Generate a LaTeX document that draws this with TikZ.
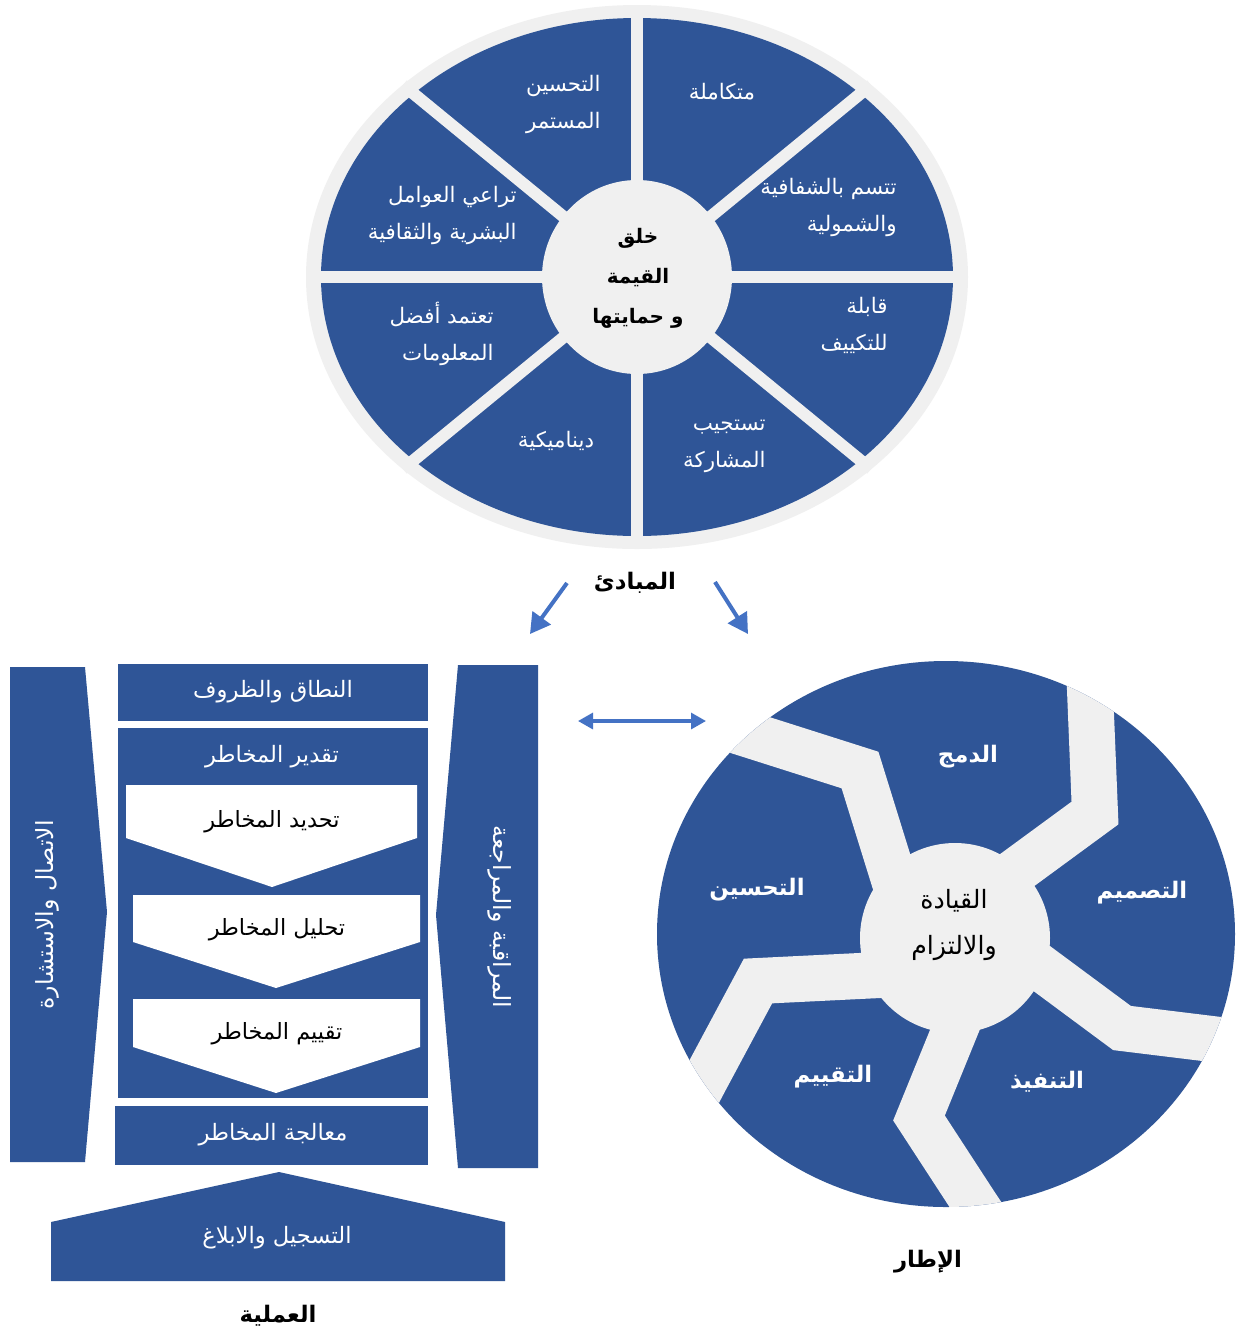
\documentclass[tikz,border=0pt]{standalone}
\usepackage{fontspec}
\newfontfamily\arfont[Script=Arabic]{DejaVu Sans}
\TeXXeTstate=1
\usetikzlibrary{arrows.meta}
\definecolor{wblue}{HTML}{2F5597}
\definecolor{pale}{HTML}{F0F0F0}
\definecolor{linkblue}{HTML}{4472C4}
\newcommand{\artext}[1]{\beginR #1\endR}
\tikzset{
  wheeltxt/.style={text=white, font=\arfont\fontsize{10.7}{18.5}\selectfont, inner sep=0pt},
  hubtxt/.style={text=black, font=\arfont\bfseries\fontsize{10}{20}\selectfont, align=center, inner sep=0pt},
  boxtxt/.style={text=white, font=\arfont\fontsize{11.3}{13}\selectfont, inner sep=0pt},
  sidetxt/.style={text=white, font=\arfont\fontsize{11.8}{13}\selectfont, inner sep=0pt},
  chevtxt/.style={text=black, font=\arfont\fontsize{11.2}{13}\selectfont, inner sep=0pt},
  armtxt/.style={text=white, font=\arfont\bfseries\fontsize{11.4}{14}\selectfont, inner sep=0pt},
  captxt/.style={text=black, font=\arfont\bfseries\fontsize{11.4}{14}\selectfont, inner sep=0pt},
  arm/.style={draw=pale, line width=23pt, line join=miter, line cap=butt},
  divider/.style={draw=pale, line width=6pt},
  link/.style={draw=linkblue, line width=2pt, -{Triangle[length=10pt,width=11pt]}},
  biglink/.style={draw=linkblue, line width=1.6pt, {Triangle[length=7.5pt,width=8pt]}-{Triangle[length=7.5pt,width=8pt]}},
}
\begin{document}
\begin{tikzpicture}[x=0.5pt,y=-0.5pt]
\useasboundingbox (0,0) rectangle (1241,1335);
\fill[white] (0,0) rectangle (1241,1335);

% ---------- principles wheel ----------
\coordinate (wc) at (637,277);
\fill[pale] (wc) ellipse [x radius=331, y radius=272];
\fill[wblue] (wc) ellipse [x radius=316, y radius=259];
\draw[divider] (306,277) -- (968,277);
\draw[divider] (637,5) -- (637,549);
\draw[divider] (403,85) -- (871,469);
\draw[divider] (403,469) -- (871,85);
\fill[pale] (wc) ellipse [x radius=95, y radius=97];

\node[hubtxt] (hub) at (638,278) {\artext{خلق}\\\artext{القيمة}\\\artext{و حمايتها}};
\node[wheeltxt] (p1) at (722,92) {\artext{متكاملة}};
\node[wheeltxt, align=right, anchor=east] (p2) at (601,104) {\artext{التحسين}\\\artext{المستمر}};
\node[wheeltxt, align=right, anchor=east] (p3) at (897,207) {\artext{تتسم بالشفافية}\\\artext{والشمولية}};
\node[wheeltxt, align=right, anchor=east] (p4) at (517,215) {\artext{تراعي العوامل}\\\artext{البشرية والثقافية}};
\node[wheeltxt, align=right, anchor=east] (p5) at (888,325) {\artext{قابلة}\\\artext{للتكييف}};
\node[wheeltxt, align=right, anchor=east] (p6) at (494,334) {\artext{تعتمد أفضل}\\\artext{المعلومات}};
\node[wheeltxt] (p7) at (556,441) {\artext{ديناميكية}};
\node[wheeltxt, align=right, anchor=east] (p8) at (766,446) {\artext{تستجيب}\\\artext{المشاركة}};

\node[captxt] (principles) at (635,583) {\artext{المبادئ}};

% ---------- process ----------
\fill[wblue] (10,667) -- (85,667) -- (107,912) -- (85,1162) -- (10,1162) -- cycle;
\node[sidetxt, rotate=90] (comm) at (47,915) {\artext{الاتصال والاستشارة}};

\fill[wblue] (458,665) -- (538,665) -- (538,1168) -- (458,1168) -- (436,915) -- cycle;
\node[sidetxt, rotate=-90] (monitor) at (500,917) {\artext{المراقبة والمراجعة}};

\fill[wblue] (118,664) rectangle (428,721);
\node[boxtxt] (scope) at (273,692) {\artext{النطاق والظروف}};

\fill[wblue] (118,728) rectangle (428,1098);
\node[boxtxt] (assess) at (272,757) {\artext{تقدير المخاطر}};

\fill[white] (126,785) -- (417,785) -- (417,838) -- (272,887) -- (126,838) -- cycle;
\node[chevtxt] (ident) at (272,822) {\artext{تحديد المخاطر}};
\fill[white] (133,895) -- (420,895) -- (420,942) -- (276,988) -- (133,942) -- cycle;
\node[chevtxt] (analy) at (277,930) {\artext{تحليل المخاطر}};
\fill[white] (133,999) -- (420,999) -- (420,1047) -- (276,1093) -- (133,1047) -- cycle;
\node[chevtxt] (evalr) at (277,1034) {\artext{تقييم المخاطر}};

\fill[wblue] (115,1106) rectangle (428,1165);
\node[boxtxt] (treat) at (273,1135) {\artext{معالجة المخاطر}};

\fill[wblue] (51,1281) -- (51,1222) -- (279,1172) -- (505,1222) -- (505,1281) -- cycle;
\node[boxtxt] (record) at (277,1238) {\artext{التسجيل والابلاغ}};

\node[captxt] (process) at (278,1316) {\artext{العملية}};

% ---------- framework ----------
\coordinate (fc) at (946,934);
\fill[wblue] (fc) ellipse [x radius=289, y radius=273];
\begin{scope}
  \clip (fc) ellipse [x radius=289, y radius=273];
  \draw[arm] (905,915) -- (860,770) -- (750,735) -- (680,713);
  \draw[arm] (990,890) -- (1095,813) -- (1090,690) -- (1089,640);
  \draw[arm] (1010,945) -- (1122,1028) -- (1220,1040) -- (1270,1046);
  \draw[arm] (965,1005) -- (919,1118) -- (975,1204) -- (995,1234);
  \draw[arm] (900,974) -- (758,981) -- (705,1080) -- (685,1118);
\end{scope}
\fill[pale] (955,938) circle [radius=95];

\node[text=black, font=\arfont\fontsize{12.6}{23}\selectfont, align=center, inner sep=0pt] (lead) at (954,925) {\artext{القيادة}\\\artext{والالتزام}};
\node[armtxt] (integ) at (968,757) {\artext{الدمج}};
\node[armtxt] (design) at (1142,893) {\artext{التصميم}};
\node[armtxt] (implem) at (1047,1082) {\artext{التنفيذ}};
\node[armtxt] (evalu) at (833,1077) {\artext{التقييم}};
\node[armtxt] (improv) at (757,890) {\artext{التحسين}};

\node[captxt] (frame) at (928,1262) {\artext{الإطار}};

% ---------- connectors ----------
\coordinate (lnkLs) at (567,583);
\coordinate (lnkLe) at (530,634);
\coordinate (lnkRs) at (715,582);
\coordinate (lnkRe) at (748,634);
\coordinate (lnkPs) at (578,721);
\coordinate (lnkFe) at (706,721);
\draw[link] (lnkLs) -- (lnkLe);
\draw[link] (lnkRs) -- (lnkRe);
\draw[biglink] (lnkPs) -- (lnkFe);
\end{tikzpicture}
\end{document}
